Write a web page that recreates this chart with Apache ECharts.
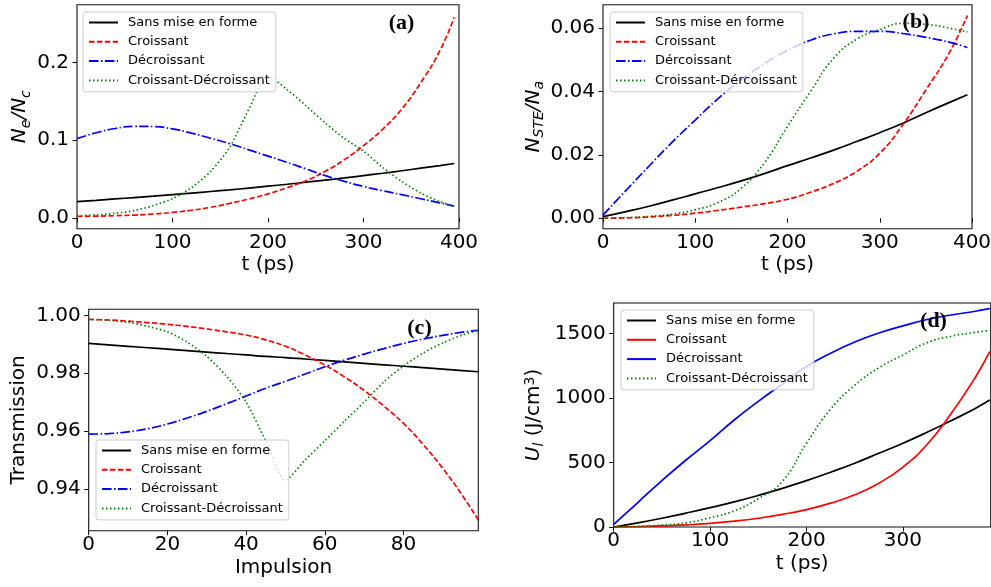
<!DOCTYPE html>
<html><head><meta charset="utf-8">
<script src="https://cdn.jsdelivr.net/npm/echarts@6/dist/echarts.min.js"></script>
<style>html,body{margin:0;padding:0;background:#fff}#c{width:991px;height:587px}</style>
</head><body><div id="c"></div>
<script>
// ---------- labels ----------
const namesStd = ['Sans mise en forme','Croissant','Décroissant','Croissant-Décroissant'];
const namesB   = ['Sans mise en forme','Croissant','Dércoissant','Croissant-Dércoissant'];

// ---------- panel (a) : Ne/Nc vs t (ps) ----------
const tA = [0,20,40,60,80,100,120,140,160,180,200,220,240,260,280,300,320,340,360,380,395];
const blackA = [0.021,0.0227,0.0245,0.0263,0.0281,0.0300,0.0320,0.0341,0.0362,0.0385,0.0409,0.0434,0.0460,0.0487,0.0515,0.0545,0.0575,0.0607,0.0640,0.0674,0.0700];
const redA   = [0.002,0.0024,0.003,0.0038,0.0052,0.0072,0.010,0.0138,0.0188,0.0245,0.031,0.039,0.048,0.060,0.075,0.093,0.114,0.140,0.174,0.215,0.258];
const blueA  = [0.102,0.1095,0.115,0.1178,0.1175,0.1145,0.109,0.1025,0.0955,0.0875,0.0795,0.0715,0.063,0.0545,0.047,0.0405,0.035,0.030,0.0248,0.0195,0.0152];
const greenA = [0.003,0.004,0.006,0.0095,0.016,0.025,0.039,0.060,0.091,0.140,0.182,0.165,0.144,0.122,0.102,0.086,0.065,0.047,0.032,0.021,0.015];

// ---------- panel (b) : NSTE/Na vs t (ps) ----------
const tB = [0,25,50,75,100,125,150,175,200,225,250,275,300,325,350,375,395];
const blackB = [0.0005,0.0021,0.0038,0.0057,0.0077,0.0097,0.0118,0.0141,0.0166,0.019,0.0215,0.0242,0.027,0.030,0.0333,0.0365,0.039];
const redB   = [0,0.0001,0.0004,0.0009,0.0016,0.0025,0.0035,0.0046,0.006,0.0082,0.011,0.0148,0.0205,0.0295,0.0405,0.052,0.064];
const blueB  = [0.001,0.0088,0.0165,0.024,0.031,0.0378,0.0437,0.0488,0.053,0.0562,0.0582,0.059,0.059,0.0583,0.0571,0.0556,0.0539];
const greenB = [0,0.0002,0.0006,0.0013,0.0027,0.005,0.0095,0.0175,0.029,0.040,0.0505,0.0565,0.0595,0.0615,0.0612,0.0600,0.0588];

// ---------- panel (c) : Transmission vs Impulsion ----------
const xC = [0,5,10,15,20,25,30,35,40,45,50,55,60,65,70,75,80,85,90,95,99];
const blackC = [0.9903,0.9898,0.9893,0.9888,0.9883,0.9878,0.9873,0.9868,0.9863,0.9858,0.9854,0.9849,0.9844,0.9839,0.9834,0.9829,0.9824,0.9819,0.9814,0.9809,0.9805];
const redC   = [0.9986,0.9984,0.9980,0.9975,0.9969,0.9962,0.9953,0.9943,0.9932,0.9915,0.9893,0.9863,0.9828,0.9787,0.9740,0.9686,0.9626,0.9553,0.9470,0.9376,0.9292];
const blueC  = [0.9589,0.9591,0.9597,0.9608,0.9624,0.9645,0.9668,0.9694,0.9721,0.9748,0.9772,0.9797,0.9822,0.9845,0.9866,0.9885,0.9903,0.9918,0.9931,0.9942,0.9948];
const greenC = [0.9986,0.9983,0.9976,0.9962,0.9943,0.9908,0.9858,0.9790,0.9700,0.9565,0.9430,0.9500,0.9566,0.9634,0.9700,0.9770,0.9825,0.9870,0.9905,0.9932,0.9948];

// ---------- panel (d) : Ul (J/cm3) vs t (ps) ----------
const tD = [0,25,50,75,100,125,150,175,200,225,250,275,300,325,350,375,390];
const blackD = [0,32,68,108,150,195,245,300,360,425,495,572,650,735,825,920,985];
const redD   = [0,3,8,16,28,45,68,98,135,185,250,340,465,640,880,1160,1360];
const blueD  = [20,190,360,520,670,830,975,1110,1245,1348,1435,1505,1560,1610,1645,1674,1694];
const greenD = [0,5,15,32,72,125,220,355,650,915,1100,1235,1335,1430,1480,1510,1525];

// ---------- tick values ----------
const ticksXt = [0,100,200,300,400];
const ticksXd = [0,100,200,300];
const ticksXc = [0,20,40,60,80];
const ticksYa = [0,0.1,0.2];
const ticksYb = [0,0.02,0.04,0.06];
const ticksYc = [0.94,0.96,0.98,1.00];
const ticksYd = [0,500,1000,1500];

const FONT = 'DejaVu Sans';
const DASH = [5.5,2.4], DASHDOT = [9.6,2.4,1.5,2.4], DOT = [1.5,2.5];

function pairs(xs, ys){ return xs.map((x,i)=>[x, ys[i]]); }
function ser(g, key, label, xs, ys, color, type, sm){
  return { type:'line', name:key+'|'+label, xAxisIndex:g, yAxisIndex:g,
    data:pairs(xs,ys), symbol:'none', smooth:(sm===undefined?0.5:sm),
    lineStyle:{color:color, width:1.7, type:type}, itemStyle:{color:color},
    emphasis:{disabled:true}, silent:true };
}

const grids = [
  {left:77, top:4.7, width:382, height:224},
  {left:603, top:4.7, width:369, height:224},
  {left:88.7, top:309.3, width:389.6, height:221.4},
  {left:613.7, top:303, width:377, height:224}
].map(g => Object.assign(g, {show:true, borderColor:'#111', borderWidth:1.1, backgroundColor:'transparent', containLabel:false, outerBoundsMode:'none'}));

function xAx(g, min, max, ticks, name, gap){
  return { gridIndex:g, type:'value', min:min, max:max, name:name, nameLocation:'middle', nameGap:gap,
    nameTextStyle:{fontFamily:FONT, fontSize:20, color:'#000'},
    axisLine:{show:false},
    axisTick:{show:true, length:4.5, lineStyle:{color:'#111', width:1}, customValues:ticks},
    axisLabel:{fontFamily:FONT, fontSize:20, color:'#000', margin:4, customValues:ticks, formatter:v=>String(Math.round(v))},
    splitLine:{show:false} };
}
function yAx(g, min, max, ticks, dec, name, gap, rich){
  return { gridIndex:g, type:'value', min:min, max:max, name:name, nameLocation:'middle', nameGap:gap, nameRotate:90,
    nameTextStyle:{fontFamily:FONT, fontSize:20, color:'#000', rich:rich||{}},
    axisLine:{show:false},
    axisTick:{show:true, length:4.5, lineStyle:{color:'#111', width:1}, customValues:ticks},
    axisLabel:{fontFamily:FONT, fontSize:20, color:'#000', margin:8, customValues:ticks, formatter:v=>v.toFixed(dec)},
    splitLine:{show:false} };
}

const richMath = {
  m:{fontFamily:FONT, fontSize:20, fontStyle:'italic', color:'#000', padding:[0,0,3,0]},
  r:{fontFamily:FONT, fontSize:20, color:'#000', padding:[0,0,3,0]},
  s:{fontFamily:FONT, fontSize:14, fontStyle:'italic', color:'#000', verticalAlign:'bottom'},
  p:{fontFamily:FONT, fontSize:14, color:'#000', verticalAlign:'top'}
};

function legend(key, names, left, top){
  return { orient:'vertical', left:left, top:top, data:names.map(n=>key+'|'+n),
    formatter:n=>n.split('|')[1], selectedMode:false,
    padding:[4,6,5,5], itemGap:6.3, itemWidth:29, itemHeight:14,
    itemStyle:{opacity:0, borderWidth:0},
    backgroundColor:'rgba(255,255,255,0.8)', borderColor:'#cccccc', borderWidth:1, borderRadius:3,
    textStyle:{fontFamily:FONT, fontSize:13, color:'#000', padding:[0,0,0,5]} };
}

const option = {
  animation:false,
  backgroundColor:'#fff',
  grid: grids,
  xAxis: [
    xAx(0, 0, 400, ticksXt, 't (ps)', 26),
    xAx(1, 0, 400, ticksXt, 't (ps)', 26),
    xAx(2, 0, 99, ticksXc, 'Impulsion', 27),
    xAx(3, 0, 391, ticksXd, 't (ps)', 27)
  ],
  yAxis: [
    yAx(0, -0.0137, 0.274, ticksYa, 1, '{m|N}{s|e}{m|/N}{s|c}', 44, richMath),
    yAx(1, -0.0033, 0.0674, ticksYb, 2, '{m|N}{s|STE}{m|/N}{s|a}', 56, richMath),
    yAx(2, 0.9255, 1.0021, ticksYc, 2, 'Transmission', 60),
    yAx(3, 0, 1738, ticksYd, 0, '{m|U}{s|l}{r| (J/cm}{p|3}{r|)}', 67, richMath)
  ],
  legend: [
    legend('a', namesStd, 83, 12),
    legend('b', namesB, 610, 12),
    legend('c', namesStd, 96, 440),
    legend('d', namesStd, 621, 310)
  ],
  series: [
    ser(0,'a',namesStd[0],tA,blackA,'#000000','solid'),
    ser(0,'a',namesStd[1],tA,redA,'#ff0000',DASH),
    ser(0,'a',namesStd[2],tA,blueA,'#0000ff',DASHDOT),
    ser(0,'a',namesStd[3],tA,greenA,'#008000',DOT,0.25),
    ser(1,'b',namesB[0],tB,blackB,'#000000','solid'),
    ser(1,'b',namesB[1],tB,redB,'#ff0000',DASH),
    ser(1,'b',namesB[2],tB,blueB,'#0000ff',DASHDOT),
    ser(1,'b',namesB[3],tB,greenB,'#008000',DOT),
    ser(2,'c',namesStd[0],xC,blackC,'#000000','solid'),
    ser(2,'c',namesStd[1],xC,redC,'#ff0000',DASH),
    ser(2,'c',namesStd[2],xC,blueC,'#0000ff',DASHDOT),
    ser(2,'c',namesStd[3],xC,greenC,'#008000',DOT,0.25),
    ser(3,'d',namesStd[0],tD,blackD,'#000000','solid'),
    ser(3,'d',namesStd[1],tD,redD,'#ff0000','solid'),
    ser(3,'d',namesStd[2],tD,blueD,'#0000ff','solid'),
    ser(3,'d',namesStd[3],tD,greenD,'#008000',DOT)
  ],
  graphic: [
    {type:'text', x:401.5, y:23, z:100, style:{text:'(a)', font:'bold 22px "Liberation Serif"', fill:'#000', align:'center', verticalAlign:'middle'}},
    {type:'text', x:916, y:22, z:100, style:{text:'(b)', font:'bold 22px "Liberation Serif"', fill:'#000', align:'center', verticalAlign:'middle'}},
    {type:'text', x:419.5, y:328, z:100, style:{text:'(c)', font:'bold 22px "Liberation Serif"', fill:'#000', align:'center', verticalAlign:'middle'}},
    {type:'text', x:933.5, y:321, z:100, style:{text:'(d)', font:'bold 22px "Liberation Serif"', fill:'#000', align:'center', verticalAlign:'middle'}}
  ]
};
const chart = echarts.init(document.getElementById('c'), null, {renderer:'canvas'});
chart.setOption(option);
</script></body></html>
